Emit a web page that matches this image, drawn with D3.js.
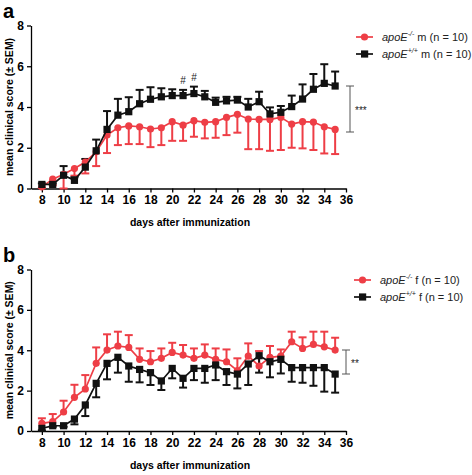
<!DOCTYPE html>
<html><head><meta charset="utf-8">
<script src="https://cdn.jsdelivr.net/npm/d3@7"></script>
<style>body{margin:0;background:#fff}svg{display:block;font-family:"Liberation Sans",Arial,sans-serif}</style>
</head><body><svg id="c" width="472" height="475"></svg>
<script>
const days = d3.range(8, 36);
const xTicks = [8,10,12,14,16,18,20,22,24,26,28,30,32,34,36];
const yTicks = [0,2,4,6,8];

// Panel a (males)
const aKoMean = [0.08,0.46,0.7,0.98,1.3,1.8,2.62,2.98,3.07,3.03,2.92,2.98,3.28,3.11,3.33,3.25,3.28,3.49,3.64,3.41,3.39,3.39,3.49,3.16,3.28,3.26,3.03,2.9];
const aKoErr  = [0.05,0.3,0.7,0.35,0.56,0.7,0.88,0.85,0.89,0.85,0.89,0.85,0.94,0.77,0.79,0.79,0.79,0.87,0.9,1.48,1.46,1.54,1.6,1.16,1.31,1.37,1.31,1.21];
const aWtMean = [0.2,0.2,0.65,0.4,1.05,1.85,2.9,3.6,3.77,4.16,4.38,4.5,4.56,4.56,4.66,4.5,4.23,4.3,4.34,4.0,4.26,3.66,3.74,4.02,4.39,4.87,5.16,5.03];
const aWtErr  = [0.05,0.05,0.45,0.15,0.4,0.55,0.9,0.8,0.71,0.68,0.59,0.42,0.31,0.28,0.34,0.29,0.23,0.2,0.16,0.4,0.49,0.32,0.31,0.54,0.72,0.75,0.94,0.71];

// Panel b (females)
const bKoMean = [0.38,0.46,0.94,1.67,2.08,3.35,4.01,4.21,4.14,3.55,3.43,3.6,3.89,3.76,3.6,3.76,3.55,3.43,2.99,3.71,3.22,3.65,3.71,4.42,4.09,4.29,4.17,4.01];
const bKoErr  = [0.25,0.38,0.56,0.62,0.69,0.79,0.78,0.71,0.61,0.54,0.53,0.49,0.48,0.5,0.49,0.53,0.54,0.61,0.61,0.63,0.74,0.56,0.33,0.5,0.55,0.63,0.75,0.61];
const bWtMean = [0.13,0.26,0.26,0.59,1.29,2.36,3.35,3.65,3.22,3.05,2.89,2.48,3.1,2.61,3.1,3.1,3.27,2.94,2.82,3.32,3.73,3.43,3.55,3.14,3.14,3.14,3.14,2.82];
const bWtErr  = [0.1,0.05,0.05,0.26,0.55,0.69,0.79,0.76,0.78,0.64,0.61,0.45,0.49,0.46,0.58,0.71,0.75,0.66,0.71,1.04,0.84,0.77,0.7,0.7,0.75,0.9,1.19,0.92];

const RED = "#ee3e46", BLACK = "#111";
const svg = d3.select("#c");

function panel(o) {
  const g = svg.append("g");
  const x = d3.scaleLinear().domain([7, 36]).range([31, 346]);
  const y = d3.scaleLinear().domain([0, 8]).range([o.y0, o.y8]);

  g.append("text").attr("x", 3).attr("y", o.y8 - 8).attr("font-size", 20).attr("font-weight", "bold").text(o.label);

  const ya = g.append("g").attr("transform", "translate(31,0)")
    .call(d3.axisLeft(y).tickValues(yTicks).tickSize(4).tickSizeOuter(0).tickPadding(3));
  const xa = g.append("g").attr("transform", `translate(0,${o.y0})`)
    .call(d3.axisBottom(x).tickValues(xTicks).tickSize(4).tickSizeOuter(0).tickPadding(3));
  [ya, xa].forEach(a => {
    a.selectAll("path,line").attr("stroke", "#000").attr("stroke-width", 1.3);
    a.selectAll("text").attr("font-size", 12).attr("font-weight", "bold").attr("fill", "#000")
      .attr("font-family", '"Liberation Sans",Arial,sans-serif');
  });

  g.append("text").attr("transform", `translate(13,${(o.y0 + o.y8) / 2}) rotate(-90)`)
    .attr("text-anchor", "middle").attr("font-size", 10.5).attr("font-weight", "bold").text("mean clinical score (± SEM)");
  g.append("text").attr("x", 190).attr("y", o.y0 + 37.5).attr("text-anchor", "middle")
    .attr("font-size", 10.5).attr("font-weight", "bold").text("days after immunization");

  o.series.forEach(s => {
    const c = s.color;
    const eg = g.append("g");
    days.forEach((d, i) => {
      const v = s.mean[i], e = s.err[i] * s.dir;
      const yy = y(v + e);
      eg.append("line").attr("x1", x(d)).attr("x2", x(d)).attr("y1", y(v)).attr("y2", yy).attr("stroke", c).attr("stroke-width", 2);
      eg.append("line").attr("x1", x(d) - 4).attr("x2", x(d) + 4).attr("y1", yy).attr("y2", yy).attr("stroke", c).attr("stroke-width", 2);
    });
  });
  o.series.forEach(s => {
    const c = s.color;
    g.append("path").datum(days.map((d, i) => [d, s.mean[i]]))
      .attr("d", d3.line().x(p => x(p[0])).y(p => y(p[1])))
      .attr("fill", "none").attr("stroke", c).attr("stroke-width", 1.7);
    days.forEach((d, i) => {
      if (s.shape === "circle") g.append("circle").attr("cx", x(d)).attr("cy", y(s.mean[i])).attr("r", 3.6).attr("fill", c);
      else g.append("rect").attr("x", x(d) - 3.6).attr("y", y(s.mean[i]) - 3.6).attr("width", 7.2).attr("height", 7.2).attr("fill", c);
    });
  });

  (o.hashes || []).forEach(h => {
    g.append("text").attr("x", x(h.day)).attr("y", y(h.v)).attr("text-anchor", "middle")
      .attr("font-size", 10).attr("fill", "#222").text("#");
  });

  o.series.forEach((s, k) => {
    const ly = o.legY + k * 17;
    g.append("line").attr("x1", o.legX).attr("x2", o.legX + 17).attr("y1", ly).attr("y2", ly).attr("stroke", s.color).attr("stroke-width", 1.7);
    if (s.shape === "circle") g.append("circle").attr("cx", o.legX + 8.5).attr("cy", ly).attr("r", 3.6).attr("fill", s.color);
    else g.append("rect").attr("x", o.legX + 5).attr("y", ly - 3.6).attr("width", 7.2).attr("height", 7.2).attr("fill", s.color);
    const t = g.append("text").attr("x", o.legX + 26).attr("y", ly + 4).attr("font-size", 11).attr("fill", "#222");
    t.append("tspan").attr("font-style", "italic").text("apoE");
    t.append("tspan").attr("font-style", "italic").attr("font-size", 7).attr("dy", -5).text(s.sup);
    t.append("tspan").attr("dy", 5).text(" " + o.sex + " (n = 10)");
  });

  const b = o.bracket;
  const bg = g.append("g").attr("stroke", "#555").attr("stroke-width", 1);
  bg.append("line").attr("x1", b.x).attr("x2", b.x).attr("y1", b.y1).attr("y2", b.y2);
  bg.append("line").attr("x1", b.x - 4).attr("x2", b.x + 4).attr("y1", b.y1).attr("y2", b.y1);
  bg.append("line").attr("x1", b.x - 4).attr("x2", b.x + 4).attr("y1", b.y2).attr("y2", b.y2);
  g.append("text").attr("x", b.x + 5).attr("y", (b.y1 + b.y2) / 2 + 5).attr("font-size", 10).attr("fill", "#222").text(b.text);
}

panel({
  label: "a", y0: 188.5, y8: 25.5, sex: "m",
  series: [
    { mean: aKoMean, err: aKoErr, dir: -1, color: RED, shape: "circle", sup: "-/-" },
    { mean: aWtMean, err: aWtErr, dir: 1, color: BLACK, shape: "square", sup: "+/+" }
  ],
  hashes: [{ day: 21, v: 5.15 }, { day: 22, v: 5.3 }],
  legX: 356, legY: 37,
  bracket: { x: 350, y1: 86, y2: 132, text: "***" }
});
panel({
  label: "b", y0: 431, y8: 269.5, sex: "f",
  series: [
    { mean: bKoMean, err: bKoErr, dir: 1, color: RED, shape: "circle", sup: "-/-" },
    { mean: bWtMean, err: bWtErr, dir: -1, color: BLACK, shape: "square", sup: "+/+" }
  ],
  legX: 354, legY: 280,
  bracket: { x: 346, y1: 350, y2: 374, text: "**" }
});
</script></body></html>
